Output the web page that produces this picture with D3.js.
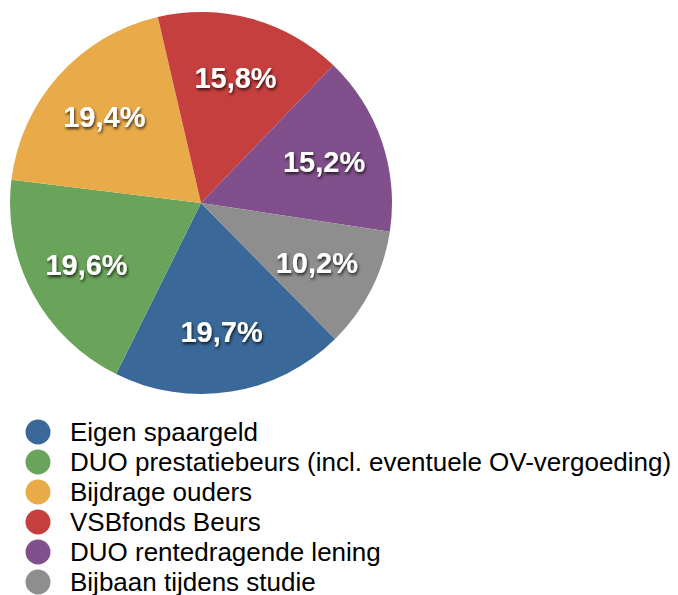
<!DOCTYPE html>
<html>
<head>
<meta charset="utf-8">
<script src="https://cdn.jsdelivr.net/npm/d3@7"></script>
<style>
  body { margin: 0; background: #fff; }
  svg { display: block; }
</style>
</head>
<body>
<svg id="chart" width="678" height="595"></svg>
<script>
// Chart data
const categories = ['Eigen spaargeld', 'DUO prestatiebeurs (incl. eventuele OV-vergoeding)', 'Bijdrage ouders', 'VSBfonds Beurs', 'DUO rentedragende lening', 'Bijbaan tijdens studie'];
const shares = [19.7, 19.6, 19.4, 15.8, 15.2, 10.2];
const colors = ['#3a6898', '#6aa35a', '#e9ab4a', '#c43f3d', '#814f8b', '#8e8e8e'];

const svg = d3.select('#chart');

// drop shadow for the slice labels
const defs = svg.append('defs');
const f = defs.append('filter').attr('id', 'shadow').attr('x', '-20%').attr('y', '-30%').attr('width', '140%').attr('height', '160%');
f.append('feDropShadow').attr('dx', 1).attr('dy', 2).attr('stdDeviation', 1.6).attr('flood-color', '#000').attr('flood-opacity', 0.75);

const cx = 201, cy = 203, radius = 191;
const start = 135.4 * Math.PI / 180;

const pie = d3.pie().sort(null).value(d => d).startAngle(start).endAngle(start + 2 * Math.PI);
const arcs = pie(shares);
const arc = d3.arc().innerRadius(0).outerRadius(radius);
const labelArc = d3.arc().innerRadius(130).outerRadius(130);

const g = svg.append('g').attr('transform', `translate(${cx},${cy})`);

g.selectAll('path')
  .data(arcs)
  .enter()
  .append('path')
  .attr('d', arc)
  .style('fill', (d, i) => colors[i]);

g.selectAll('.lbl')
  .data(arcs)
  .enter()
  .append('text')
  .attr('class', 'lbl')
  .attr('transform', d => `translate(${labelArc.centroid(d)})`)
  .attr('text-anchor', 'middle')
  .attr('dy', '0.36em')
  .style('font-family', 'Liberation Sans, Arial, sans-serif')
  .style('font-weight', 'bold')
  .style('font-size', '29px')
  .style('fill', '#fff')
  .attr('filter', 'url(#shadow)')
  .text(d => d.data.toFixed(1).replace('.', ',') + '%');

// Legend
const legend = svg.append('g');
const rows = legend.selectAll('g')
  .data(categories)
  .enter()
  .append('g')
  .attr('transform', (d, i) => `translate(38, ${432 + i * 30})`);

rows.append('circle')
  .attr('r', 12.5)
  .style('fill', (d, i) => colors[i]);

rows.append('text')
  .attr('x', 32)
  .attr('dy', '0.36em')
  .style('font-family', 'Liberation Sans, Arial, sans-serif')
  .style('font-size', '26px')
  .style('fill', '#000')
  .text(d => d);
</script>
</body>
</html>
